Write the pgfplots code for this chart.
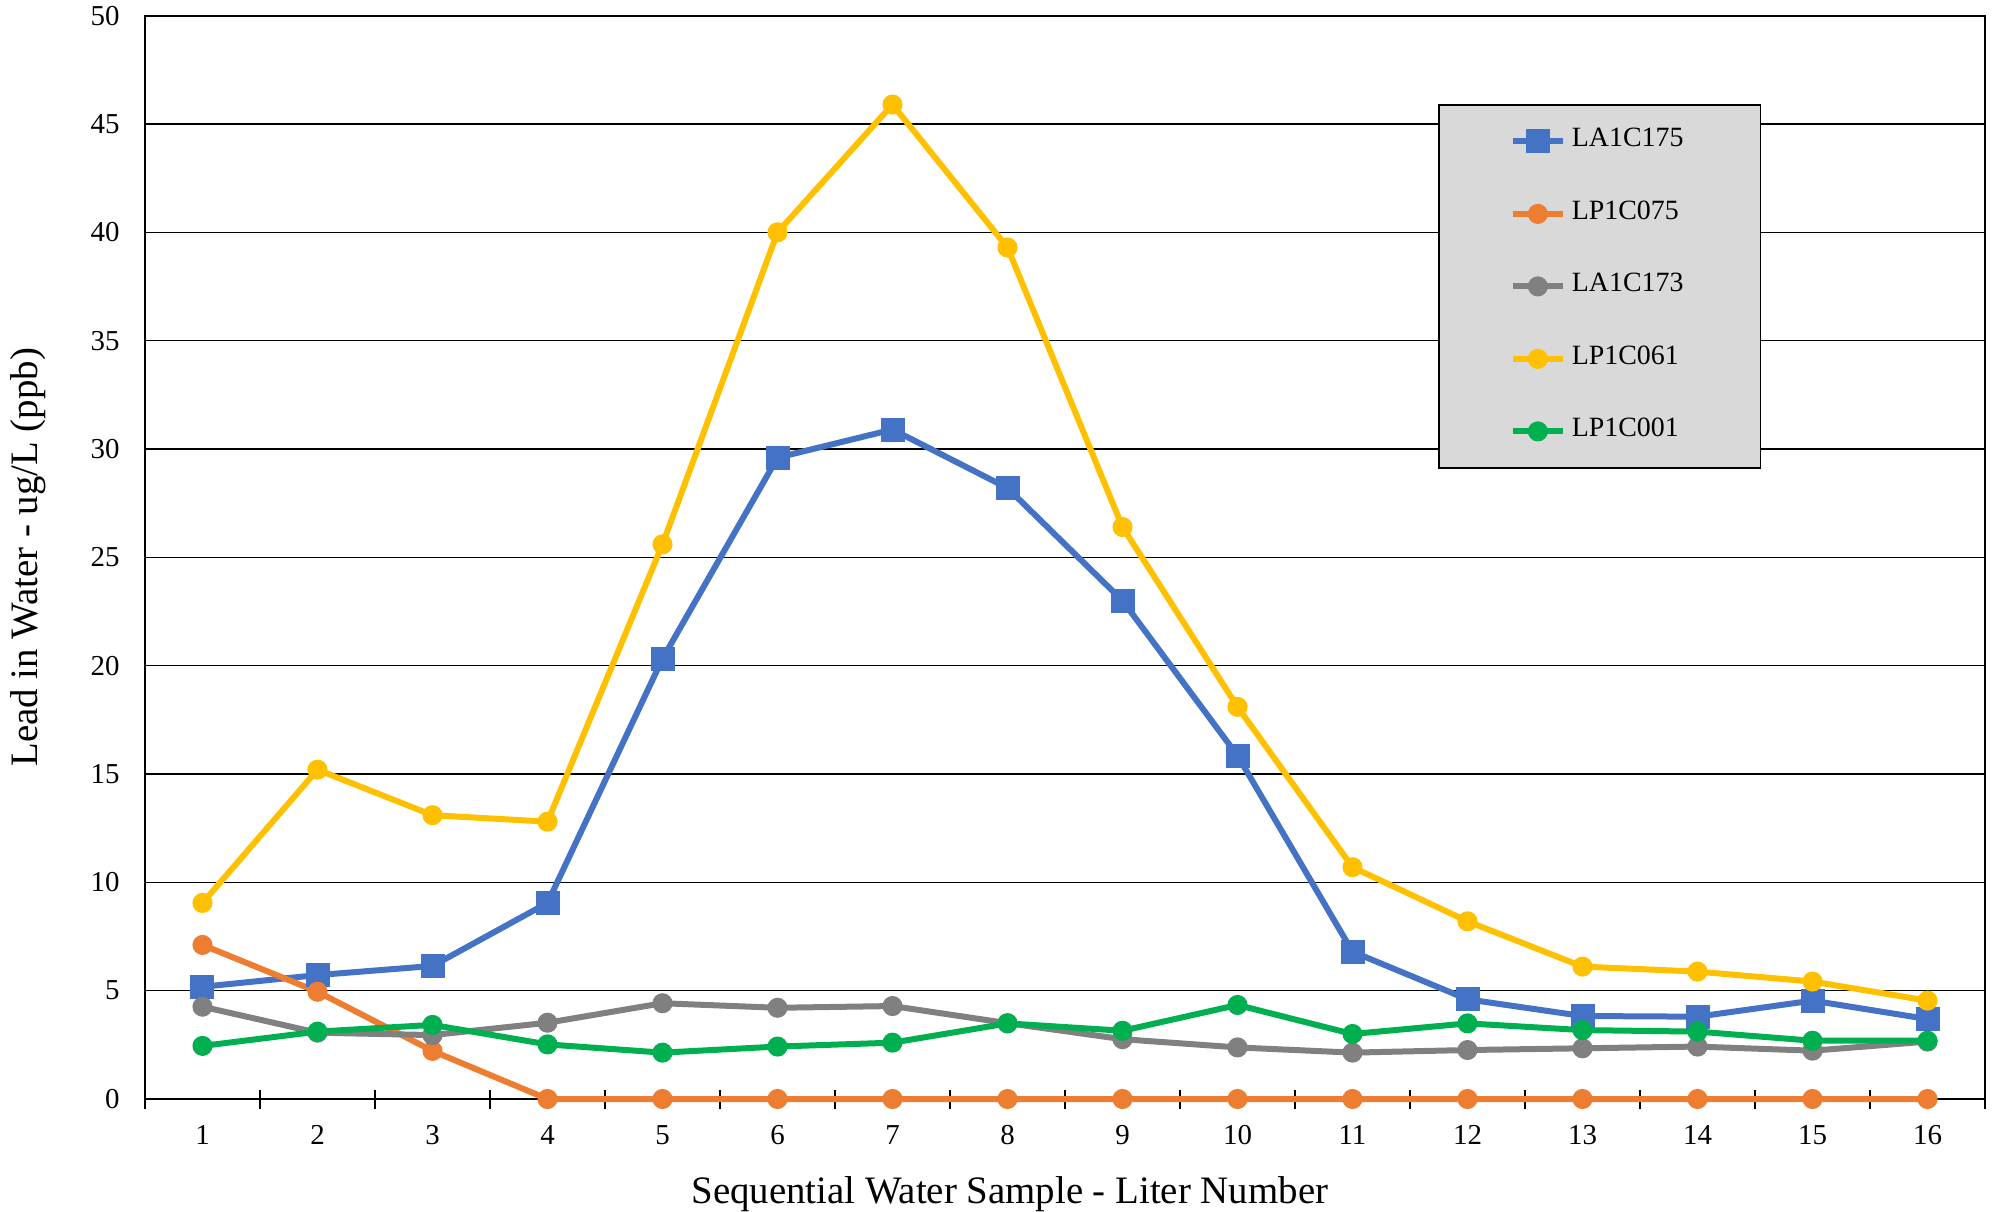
\documentclass[border=0pt]{standalone}
\usepackage{fontspec}
\setmainfont{Liberation Serif}
\usepackage{pgfplots}
\pgfplotsset{compat=1.18}
\definecolor{cblue}{RGB}{68,114,196}
\definecolor{corange}{RGB}{237,125,49}
\definecolor{cgray}{RGB}{128,128,128}
\definecolor{cyellow}{RGB}{255,192,0}
\definecolor{cgreen}{RGB}{0,176,80}
\definecolor{legfill}{RGB}{217,217,217}
\begin{document}
\begin{tikzpicture}
\begin{axis}[
  name=ax, scale only axis, width=920bp, height=541.65bp,
  xmin=0.5, xmax=16.5, ymin=0, ymax=50,
  clip=false,
  xtick={1,...,16}, minor xtick={0.5,1.5,...,16.5},
  ytick={0,5,...,50},
  tick pos=left,
  ymajorgrids, major grid style={black, line width=0.8bp},
  axis line style={black, line width=0.9bp},
  major tick length=0pt, minor tick length=9.5bp, tick align=center,
  tick style={black, line width=0.8bp},
  ytick style={draw=none},
  /pgf/number format/assume math mode=true,
  tick label style={font=\fontsize{14.5}{17}\selectfont},
  xticklabel style={anchor=north, inner sep=0pt, yshift=-13bp},
  yticklabel style={anchor=east, inner sep=0pt, xshift=-12.5bp},
  xlabel={Sequential Water Sample - Liter Number},
  ylabel={Lead in Water - ug/L (ppb)},
  label style={font=\fontsize{19.5}{23}\selectfont},
  xlabel style={at={(axis description cs:0.47,-0.0711)}, anchor=north, inner sep=0pt},
  ylabel style={at={(axis description cs:-0.0636,0.5)}, anchor=center, inner sep=0pt},
  legend image code/.code={\draw[#1, mark repeat=2, mark phase=2] plot coordinates {(0bp,0bp) (12.5bp,0bp) (25bp,0bp)};},
  legend cell align=left,
  legend style={at={(axis description cs:0.7027,0.9185)}, anchor=north west,
    fill=legfill, draw=black, line width=0.9bp,
    font=\fontsize{14}{16}\selectfont,
    inner xsep=35.5bp, inner ysep=11bp, row sep=21.75bp,
    nodes={inner ysep=0pt, inner xsep=3bp, text height=10bp, text depth=4.5bp}},
]
\addplot[color=cblue, line width=3bp, mark=square*, mark size=4.5bp, mark options={solid}] coordinates {
(1,5.18) (2,5.72) (3,6.14) (4,9.05) (5,20.32) (6,29.6) (7,30.9) (8,28.2)
(9,23.0) (10,15.85) (11,6.8) (12,4.6) (13,3.83) (14,3.8) (15,4.54) (16,3.69)};
\addlegendentry{LA1C175}
\addplot[color=corange, line width=3bp, mark=*, mark size=3.5bp, mark options={solid}] coordinates {
(1,7.11) (2,4.95) (3,2.22) (4,0) (5,0) (6,0) (7,0) (8,0)
(9,0) (10,0) (11,0) (12,0) (13,0) (14,0) (15,0) (16,0)};
\addlegendentry{LP1C075}
\addplot[color=cgray, line width=3bp, mark=*, mark size=3.5bp, mark options={solid}] coordinates {
(1,4.26) (2,3.06) (3,2.95) (4,3.52) (5,4.42) (6,4.21) (7,4.29) (8,3.50)
(9,2.76) (10,2.38) (11,2.14) (12,2.26) (13,2.34) (14,2.42) (15,2.23) (16,2.65)};
\addlegendentry{LA1C173}
\addplot[color=cyellow, line width=3bp, mark=*, mark size=3.5bp, mark options={solid}] coordinates {
(1,9.05) (2,15.2) (3,13.1) (4,12.8) (5,25.6) (6,40.0) (7,45.9) (8,39.3)
(9,26.4) (10,18.1) (11,10.7) (12,8.2) (13,6.11) (14,5.88) (15,5.42) (16,4.54)};
\addlegendentry{LP1C061}
\addplot[color=cgreen, line width=3bp, mark=*, mark size=3.5bp, mark options={solid}] coordinates {
(1,2.45) (2,3.11) (3,3.42) (4,2.52) (5,2.14) (6,2.42) (7,2.6) (8,3.49)
(9,3.15) (10,4.34) (11,3.0) (12,3.49) (13,3.18) (14,3.11) (15,2.69) (16,2.69)};
\addlegendentry{LP1C001}
\end{axis}
\pgfresetboundingbox
\path[use as bounding box] ([shift={(-72.5bp,-56.5bp)}]ax.south west) rectangle ([shift={(5bp,7.85bp)}]ax.north east);
\end{tikzpicture}
\end{document}
